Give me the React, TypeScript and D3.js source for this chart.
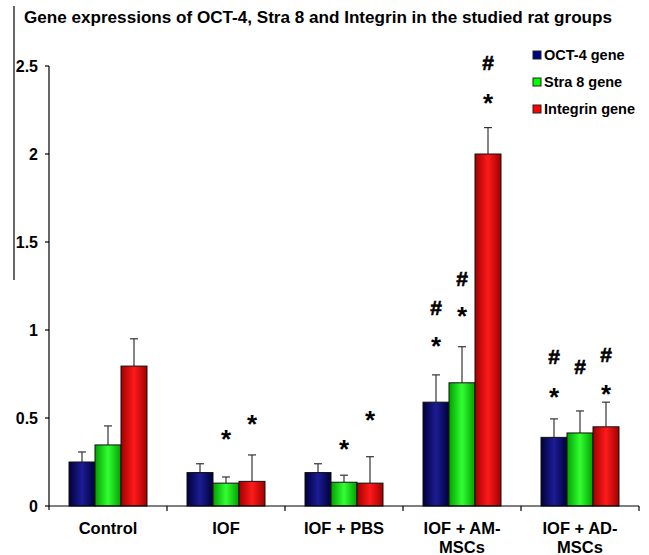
import React from "react";
import * as d3 from "d3";

const categories = [["Control"], ["IOF"], ["IOF + PBS"], ["IOF + AM-", "MSCs"], ["IOF + AD-", "MSCs"]];
const seriesNames = ["OCT-4 gene", "Stra 8 gene", "Integrin gene"];
const oct4 = [0.25, 0.19, 0.19, 0.59, 0.39];
const stra8 = [0.347, 0.13, 0.135, 0.70, 0.415];
const integrin = [0.795, 0.14, 0.13, 2.0, 0.45];
const oct4Err = [0.057, 0.05, 0.05, 0.155, 0.105];
const stra8Err = [0.108, 0.035, 0.04, 0.205, 0.125];
const integrinErr = [0.155, 0.15, 0.15, 0.15, 0.14];
const yTicks = [0, 0.5, 1, 1.5, 2, 2.5];
// annotations: [group, series, symbol, y value of symbol centre]
const annotations: [number, number, string, number][] = [
  [1, 1, "*", 0.39],
  [1, 2, "*", 0.48],
  [2, 1, "*", 0.335],
  [2, 2, "*", 0.5],
  [3, 0, "*", 0.92],
  [3, 0, "#", 1.13],
  [3, 1, "*", 1.09],
  [3, 1, "#", 1.29],
  [3, 2, "*", 2.3],
  [3, 2, "#", 2.52],
  [4, 0, "*", 0.63],
  [4, 0, "#", 0.85],
  [4, 1, "#", 0.79],
  [4, 2, "*", 0.65],
  [4, 2, "#", 0.86],
];

const values = [oct4, stra8, integrin];
const errs = [oct4Err, stra8Err, integrinErr];
const colors = [
  { id: "gBlue", edge: "#00003a", mid: "#1c1c96", legend: "#000080" },
  { id: "gGreen", edge: "#00a000", mid: "#33ff33", legend: "#00ff00" },
  { id: "gRed", edge: "#a00000", mid: "#ff1a1a", legend: "#ff0000" },
];

export default function App() {
  const W = 649, H = 555;
  const left = 49, right = 639, top = 66, bottom = 506;
  const y = d3.scaleLinear().domain([0, 2.5]).range([bottom, top]);
  const x0 = d3.scaleBand().domain(categories.map((_, i) => String(i))).range([left, right]).paddingInner(0).paddingOuter(0);
  const groupW = x0.bandwidth();
  const barW = 26;
  const x1 = d3.scaleBand().domain(["0", "1", "2"]).range([0, barW * 3]);
  const barX = (g: number, s: number) => (x0(String(g)) as number) + (groupW - barW * 3) / 2 + (x1(String(s)) as number);
  const font = "Arial, 'Liberation Sans', sans-serif";

  return (
    <svg width={W} height={H} style={{ position: "absolute", left: 0, top: 0, background: "#fff" }} fontFamily={font}>
      <defs>
        {colors.map((c) => (
          <linearGradient key={c.id} id={c.id} x1="0" x2="1" y1="0" y2="0">
            <stop offset="0%" stopColor={c.edge} />
            <stop offset="50%" stopColor={c.mid} />
            <stop offset="100%" stopColor={c.edge} />
          </linearGradient>
        ))}
      </defs>
      <rect width={W} height={H} fill="#fff" />
      <line x1={14} x2={14} y1={6} y2={280} stroke="#000" strokeWidth={1.2} />
      <text x={24} y={23} fontSize={16} fontWeight="bold" fill="#000" textLength={588} lengthAdjust="spacingAndGlyphs">
        Gene expressions of OCT-4, Stra 8 and Integrin in the studied rat groups
      </text>

      {/* bars */}
      {values.map((vals, s) =>
        vals.map((v, g) => {
          const bx = barX(g, s);
          const cx = bx + barW / 2;
          const et = y(v + errs[s][g]);
          return (
            <g key={`${s}-${g}`}>
              <line x1={cx} x2={cx} y1={y(v)} y2={et} stroke="#333" strokeWidth={1.2} />
              <line x1={cx - 4} x2={cx + 4} y1={et} y2={et} stroke="#333" strokeWidth={1.2} />
              <rect x={bx} y={y(v)} width={barW} height={bottom - y(v)} fill={`url(#${colors[s].id})`} stroke="#111" strokeWidth={1} />
            </g>
          );
        })
      )}

      {/* annotations */}
      {annotations.map(([g, s, sym, v], i) => (
        <text
          key={i}
          x={barX(g, s) + barW / 2}
          y={y(v) + (sym === "*" ? 11 : 7.5)}
          textAnchor="middle"
          fontSize={sym === "*" ? 26 : 21}
          fontWeight="bold"
          fill="#000"
          stroke="#000"
          strokeWidth={sym === "#" ? 0.6 : 0}
        >
          {sym}
        </text>
      ))}

      {/* y axis */}
      <line x1={left} x2={left} y1={top} y2={bottom + 4} stroke="#000" strokeWidth={1.2} />
      {yTicks.map((t) => (
        <g key={t}>
          <line x1={left - 4} x2={left} y1={y(t)} y2={y(t)} stroke="#000" strokeWidth={1.2} />
          <text x={38} y={y(t) + 6} textAnchor="end" fontSize={16} fontWeight="bold">
            {String(t)}
          </text>
        </g>
      ))}

      {/* x axis */}
      <line x1={left} x2={right} y1={bottom} y2={bottom} stroke="#000" strokeWidth={1.2} />
      {categories.map((_, i) => {
        const xr = (x0(String(i)) as number) + groupW;
        return <line key={i} x1={xr} x2={xr} y1={bottom} y2={bottom + 5} stroke="#000" strokeWidth={1.2} />;
      })}
      {categories.map((lines, i) => (
        <text key={i} textAnchor="middle" fontSize={16.5} fontWeight="bold">
          {lines.map((ln, j) => (
            <tspan key={j} x={(x0(String(i)) as number) + groupW / 2} y={533.5 + j * 19}>
              {ln}
            </tspan>
          ))}
        </text>
      ))}

      {/* legend */}
      {seriesNames.map((n, i) => (
        <g key={n}>
          <rect x={533} y={51 + i * 27} width={8} height={8} fill={colors[i].legend} stroke="#222" strokeWidth={1} />
          <text x={544} y={60 + i * 27} fontSize={14.5} fontWeight="bold">
            {n}
          </text>
        </g>
      ))}
    </svg>
  );
}
